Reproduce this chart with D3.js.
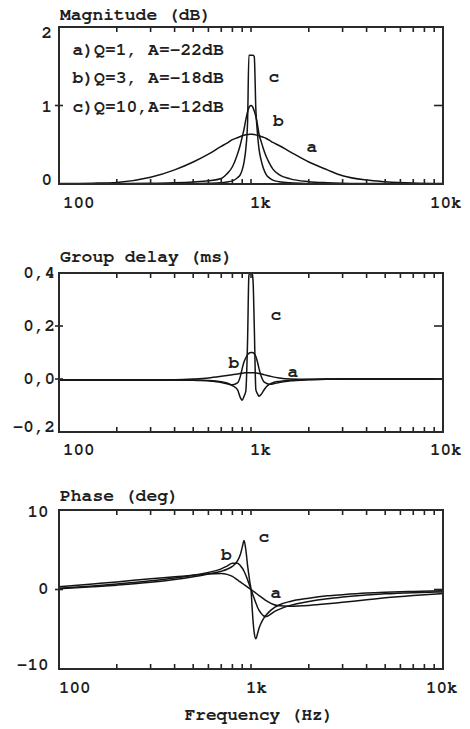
<!DOCTYPE html>
<html>
<head>
<meta charset="utf-8">
<script src="https://cdn.jsdelivr.net/npm/d3@7"></script>
<style>
  html, body { margin: 0; padding: 0; background: #fff; }
  svg { display: block; }
  text { font-family: "Nimbus Mono PS", "Nimbus Mono L", "FreeMono", "Courier New", Courier, "Liberation Mono", monospace; font-weight: bold; fill: #1e1e1e; }
</style>
</head>
<body>
<svg id="chart" width="470" height="729"></svg>
<script>
// ---------------- DATA ----------------
const freqs = [100, 150, 200, 300, 400, 500, 600, 700, 750, 800, 850, 880, 900, 920, 940, 960, 975, 985,
  1000, 1015, 1025, 1040, 1060, 1080, 1100, 1130, 1160, 1200, 1250, 1300, 1400, 1600, 2000, 2500, 3000,
  4000, 5000, 7000, 10000];

// Magnitude (dB)
const magA = [0.005, 0.01, 0.02, 0.085, 0.18, 0.28, 0.38, 0.48, 0.52, 0.565, 0.59, 0.605, 0.615, 0.622, 0.627, 0.63, 0.632, 0.633,
  0.633, 0.633, 0.632, 0.63, 0.626, 0.62, 0.615, 0.605, 0.595, 0.58, 0.555, 0.53, 0.49, 0.41, 0.28, 0.18, 0.105,
  0.05, 0.03, 0.012, 0.005];
const magB = [0.002, 0.003, 0.005, 0.01, 0.015, 0.025, 0.04, 0.07, 0.13, 0.22, 0.38, 0.5, 0.6, 0.7, 0.82, 0.92, 0.97, 0.99,
  1.0, 0.99, 0.97, 0.93, 0.86, 0.76, 0.64, 0.54, 0.45, 0.35, 0.26, 0.19, 0.12, 0.065, 0.03, 0.017, 0.011,
  0.007, 0.005, 0.003, 0.002];
const magC = [0.0005, 0.001, 0.001, 0.002, 0.003, 0.005, 0.008, 0.015, 0.025, 0.04, 0.08, 0.12, 0.18, 0.28, 0.45, 0.8, 1.64, 1.64,
  1.64, 1.64, 1.64, 1.62, 0.95, 0.65, 0.45, 0.3, 0.2, 0.12, 0.075, 0.05, 0.03, 0.015, 0.007, 0.004, 0.003,
  0.002, 0.001, 0.001, 0.0005];

// Group delay (ms)
const gdA = [-0.004, -0.004, -0.004, -0.004, -0.003, 0.0, 0.004, 0.01, 0.013, 0.016, 0.019, 0.021, 0.022, 0.023, 0.024, 0.024, 0.024, 0.024,
  0.024, 0.024, 0.024, 0.024, 0.023, 0.022, 0.021, 0.019, 0.017, 0.014, 0.011, 0.008, 0.004, 0.0, -0.001, 0.0, 0.0,
  0.0, 0.0, 0.0, 0.0];
const gdB = [-0.004, -0.004, -0.004, -0.004, -0.004, -0.004, -0.007, -0.013, -0.018, -0.022, -0.015, 0.01, 0.04, 0.065, 0.08, 0.092, 0.097, 0.099,
  0.1, 0.1, 0.099, 0.095, 0.085, 0.065, 0.04, 0.01, -0.008, -0.016, -0.02, -0.019, -0.013, -0.007, -0.003, -0.001, 0.0,
  0.0, 0.0, 0.0, 0.0];
const gdC = [-0.004, -0.004, -0.004, -0.004, -0.004, -0.005, -0.006, -0.01, -0.015, -0.025, -0.04, -0.07, -0.08, -0.065, -0.045, 0.15, 0.39, 0.4,
  0.4, 0.395, 0.37, 0.2, -0.04, -0.055, -0.065, -0.058, -0.045, -0.03, -0.02, -0.014, -0.009, -0.005, -0.002, -0.001, 0.0,
  0.0, 0.0, 0.0, 0.0];

// Phase (deg)
const phA = [0.35, 0.7, 0.95, 1.35, 1.6, 1.8, 1.95, 2.0, 1.9, 1.65, 1.2, 0.95, 0.78, 0.62, 0.46, 0.3, 0.18, 0.1,
  0.0, -0.12, -0.2, -0.3, -0.45, -0.6, -0.75, -0.95, -1.15, -1.4, -1.65, -1.85, -2.05, -2.1, -2.0, -1.8, -1.6,
  -1.3, -1.05, -0.75, -0.5];
const phB = [0.15, 0.45, 0.7, 1.1, 1.45, 1.8, 2.15, 2.6, 2.95, 3.3, 3.3, 3.0, 2.7, 2.3, 1.8, 1.2, 0.75, 0.45,
  0.0, -0.45, -0.75, -1.15, -1.7, -2.2, -2.6, -3.0, -3.3, -3.4, -3.2, -2.9, -2.5, -2.0, -1.5, -1.15, -0.95,
  -0.7, -0.55, -0.4, -0.3];
const phC = [0.1, 0.35, 0.55, 0.9, 1.25, 1.6, 1.95, 2.3, 2.55, 2.9, 3.6, 4.4, 5.3, 6.15, 5.0, 3.0, 1.8, 1.0,
  0.0, -2.5, -4.0, -5.5, -6.2, -5.6, -4.9, -4.2, -3.7, -3.2, -2.75, -2.4, -1.95, -1.5, -1.1, -0.8, -0.65,
  -0.45, -0.35, -0.25, -0.15];

const seriesNames = ["a", "b", "c"];
const legendLines = ["a)Q=1, A=-22dB", "b)Q=3, A=-18dB", "c)Q=10,A=-12dB"];

const xTickValues = [100, 1000, 10000];
const xTickLabels = ["100", "1k", "10k"];
const xMinorTicks = [200, 300, 400, 500, 600, 700, 800, 900, 1000, 2000, 3000, 4000, 5000, 6000, 7000, 8000, 9000];

const magTickValues = [0, 1, 2];
const magTickLabels = ["0", "1", "2"];
const gdTickValues = [-0.2, 0.0, 0.2, 0.4];
const gdTickLabels = ["-0,2", "0,0", "0,2", "0,4"];
const phTickValues = [-10, 0, 10];
const phTickLabels = ["-10", "0", "10"];

const xAxisTitle = "Frequency (Hz)";

// ---------------- LAYOUT ----------------
const svg = d3.select("#chart");
const X0 = 59, X1 = 443;
const x = d3.scaleLog().domain([100, 10000]).range([X0, X1]);

const panels = [
  { title: "Magnitude (dB)", titleY: 20, top: 27, bottom: 184, domain: [0, 2],
    series: [magA, magB, magC], tickValues: magTickValues, tickLabels: magTickLabels,
    labelRight: 52, labelDy: [1, 6, 10.5], innerTicks: [1],
    xLabelY: 208, xLabelShift: 0,
    curveLabels: [[312, 151.5], [278.5, 126], [274, 81.5]] },
  { title: "Group delay (ms)", titleY: 262, top: 273, bottom: 432, domain: [-0.2, 0.4],
    series: [gdA, gdB, gdC], tickValues: gdTickValues, tickLabels: gdTickLabels,
    labelRight: 55, labelDy: [0, 4.5, 5, 5], innerTicks: [0, 0.2],
    xLabelY: 455, xLabelShift: 0,
    curveLabels: [[293, 376.5], [234, 368], [276, 320]] },
  { title: "Phase (deg)", titleY: 500.5, top: 510, bottom: 669, domain: [-10, 10],
    series: [phA, phB, phC], tickValues: phTickValues, tickLabels: phTickLabels,
    labelRight: 48.5, labelDy: [1, 4, 6.5], innerTicks: [0],
    xLabelY: 693, xLabelShift: -4,
    curveLabels: [[276, 598], [226.5, 560], [264, 541.5]] }
];

const xLabelOffsets = [4, -1, -13];

panels.forEach((p, pi) => {
  const y = d3.scaleLinear().domain(p.domain).range([p.bottom, p.top]);
  const g = svg.append("g");

  const line = d3.line()
    .x((d, i) => x(freqs[i]))
    .y(d => y(d))
    .curve(d3.curveMonotoneX);
  p.series.forEach(s => {
    g.append("path").datum(s).attr("d", line)
      .attr("fill", "none").attr("stroke", "#141414").attr("stroke-width", 1.5)
      .attr("stroke-linejoin", "round");
  });

  xMinorTicks.forEach(f => {
    g.append("line").attr("x1", x(f)).attr("x2", x(f))
      .attr("y1", p.bottom).attr("y2", p.bottom - 5)
      .attr("stroke", "#222").attr("stroke-width", 1.6);
    g.append("line").attr("x1", x(f)).attr("x2", x(f))
      .attr("y1", p.top).attr("y2", p.top + 5)
      .attr("stroke", "#222").attr("stroke-width", 1.6);
  });

  p.innerTicks.forEach(v => {
    g.append("line").attr("x1", X0 - 4).attr("x2", X0 + 4)
      .attr("y1", y(v)).attr("y2", y(v)).attr("stroke", "#222").attr("stroke-width", 1.6);
    g.append("line").attr("x1", X1 - 9).attr("x2", X1)
      .attr("y1", y(v)).attr("y2", y(v)).attr("stroke", "#222").attr("stroke-width", 1.6);
  });

  g.append("rect").attr("x", X0).attr("y", p.top)
    .attr("width", X1 - X0).attr("height", p.bottom - p.top)
    .attr("fill", "none").attr("stroke", "#2a2a2a").attr("stroke-width", 2);

  g.append("text").attr("x", X0 + 1).attr("y", p.titleY)
    .attr("font-size", 18).text(p.title);

  p.tickValues.forEach((v, i) => {
    g.append("text").attr("x", p.labelRight).attr("y", y(v) + p.labelDy[i])
      .attr("text-anchor", "end").attr("font-size", 17.6).text(p.tickLabels[i]);
  });

  xTickValues.forEach((f, i) => {
    g.append("text").attr("x", x(f) + xLabelOffsets[i] + p.xLabelShift).attr("y", p.xLabelY)
      .attr("font-size", 17.6).text(xTickLabels[i]);
  });

  p.curveLabels.forEach((c, i) => {
    g.append("text").attr("x", c[0]).attr("y", c[1])
      .attr("text-anchor", "middle").attr("font-size", 18).text(seriesNames[i]);
  });

  if (pi === 0) {
    legendLines.forEach((t, i) => {
      g.append("text").attr("x", 72.5).attr("y", 54.5 + i * 28.5)
        .attr("font-size", 18).text(t);
    });
  }
});

svg.append("text").attr("x", 259).attr("y", 720)
  .attr("text-anchor", "middle").attr("font-size", 17.7).text(xAxisTitle);
</script>
</body>
</html>
